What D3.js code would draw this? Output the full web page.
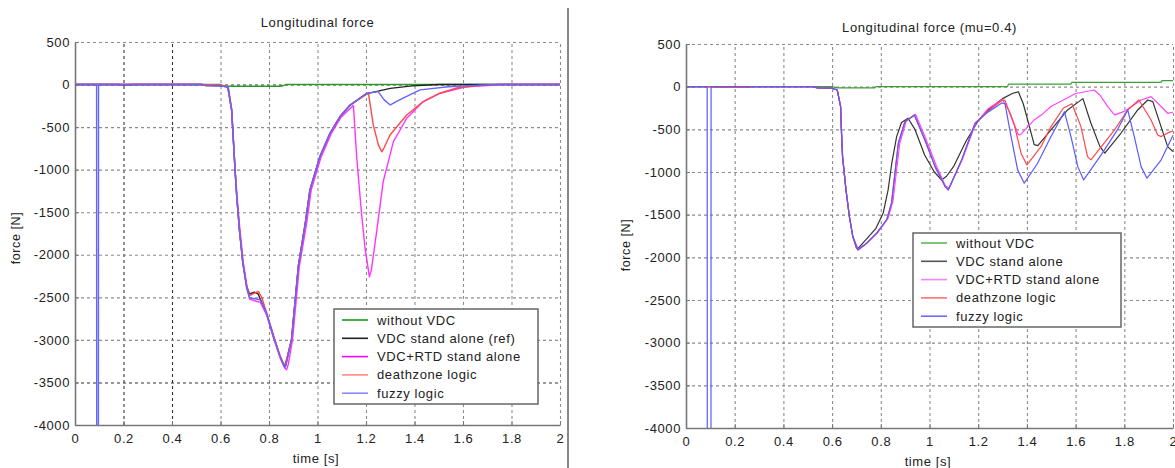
<!DOCTYPE html>
<html><head><meta charset="utf-8">
<script src="https://cdn.jsdelivr.net/npm/d3@7"></script>
<style>
html,body{margin:0;padding:0;background:#fff;}
svg text{font-family:"Liberation Sans",Arial,sans-serif;fill:#222;}
</style></head>
<body>
<svg id="chart" width="1175" height="468"></svg>
<script>
// ---------- DATA ----------
const xTicks = [0,0.2,0.4,0.6,0.8,1,1.2,1.4,1.6,1.8,2];
const yTicks = [500,0,-500,-1000,-1500,-2000,-2500,-3000,-3500,-4000];

const leftTitle = "Longitudinal force";
const rightTitle = "Longitudinal force (mu=0.4)";
const xLabel = "time [s]";
const yLabel = "force [N]";
const legendLeft = ["without VDC","VDC stand alone (ref)","VDC+RTD stand alone","deathzone logic"," fuzzy logic"];
const legendRight = ["without VDC","VDC stand alone","VDC+RTD stand alone","deathzone logic","fuzzy logic"];

// Left chart series: [time, force]
const leftGreen = [[0,0],[0.6,0],[0.62,-20],[0.85,-20],[0.87,0],[2,0]];
const leftBlack = [[0,0],[0.18,0],[0.2,-5],[0.25,0],[0.52,0],[0.54,-12],[0.6,-15],[0.63,-30],[0.646,-300],[0.66,-1000],[0.667,-1316],[0.678,-1700],[0.692,-2090],[0.708,-2370],[0.72,-2460],[0.74,-2440],[0.755,-2460],[0.77,-2560],[0.79,-2700],[0.818,-2960],[0.845,-3190],[0.862,-3300],[0.868,-3310],[0.876,-3200],[0.893,-2990],[0.921,-2130],[0.95,-1620],[0.969,-1235],[1.01,-845],[1.052,-570],[1.093,-375],[1.134,-245],[1.2,-110],[1.3,-45],[1.39,-15],[1.5,0],[2,0]];
const leftMagenta = [[0,0],[0.52,0],[0.6,-10],[0.63,-25],[0.646,-290],[0.66,-990],[0.668,-1310],[0.68,-1700],[0.694,-2090],[0.71,-2390],[0.72,-2520],[0.74,-2540],[0.765,-2560],[0.792,-2720],[0.82,-2990],[0.847,-3220],[0.865,-3330],[0.873,-3350],[0.88,-3280],[0.897,-3000],[0.925,-2140],[0.955,-1630],[0.974,-1240],[1.015,-850],[1.057,-575],[1.098,-380],[1.148,-245],[1.162,-865],[1.182,-1530],[1.196,-1920],[1.214,-2260],[1.222,-2180],[1.244,-1726],[1.271,-1140],[1.313,-670],[1.368,-396],[1.436,-200],[1.505,-102],[1.615,-25],[1.77,0],[2,0]];
const leftRed = [[0,0],[0.52,0],[0.6,-10],[0.63,-25],[0.646,-300],[0.66,-1000],[0.667,-1316],[0.678,-1707],[0.692,-2096],[0.708,-2372],[0.72,-2480],[0.74,-2450],[0.756,-2430],[0.77,-2500],[0.79,-2680],[0.818,-2940],[0.845,-3180],[0.86,-3280],[0.866,-3290],[0.875,-3200],[0.893,-2990],[0.921,-2135],[0.95,-1625],[0.969,-1237],[1.01,-846],[1.052,-570],[1.093,-376],[1.134,-240],[1.21,-100],[1.23,-474],[1.251,-709],[1.265,-790],[1.275,-740],[1.299,-592],[1.368,-357],[1.436,-200],[1.505,-102],[1.574,-40],[1.67,-10],[1.75,0],[2,0]];
const leftBlue = [[0,0],[0.089,0],[0.0895,-4600],[0.0965,-4600],[0.097,0],[0.2,0],[0.52,0],[0.54,-12],[0.6,-18],[0.632,-25],[0.646,-298],[0.66,-1002],[0.667,-1316],[0.678,-1707],[0.692,-2096],[0.708,-2400],[0.72,-2505],[0.763,-2528],[0.79,-2681],[0.818,-2958],[0.845,-3193],[0.862,-3311],[0.866,-3326],[0.874,-3250],[0.893,-2998],[0.921,-2137],[0.95,-1625],[0.969,-1237],[1.01,-846],[1.052,-570],[1.093,-376],[1.134,-240],[1.203,-102],[1.25,-83],[1.275,-180],[1.3,-240],[1.325,-200],[1.353,-160],[1.423,-63],[1.54,-25],[1.65,-10],[1.75,0],[2,0]];

// Right chart series (mu = 0.4)
const rightGreen = [[0,0],[0.6,0],[0.62,-15],[0.775,-15],[0.78,0],[1.32,0],[1.325,30],[1.58,30],[1.585,50],[1.95,50],[1.955,70],[2,70]];
const rightBlack = [[0,0],[0.11,0],[0.13,-10],[0.25,-10],[0.27,0],[0.52,0],[0.54,-15],[0.6,-18],[0.621,-39],[0.635,-234],[0.637,-429],[0.643,-820],[0.657,-1210],[0.671,-1522],[0.685,-1756],[0.7,-1890],[0.705,-1900],[0.74,-1790],[0.78,-1660],[0.81,-1480],[0.83,-1210],[0.845,-900],[0.865,-585],[0.885,-420],[0.912,-370],[0.94,-500],[0.98,-800],[1.02,-1000],[1.049,-1093],[1.07,-1050],[1.1,-930],[1.15,-640],[1.2,-400],[1.25,-250],[1.3,-140],[1.34,-80],[1.365,-59],[1.385,-200],[1.403,-390],[1.43,-680],[1.445,-690],[1.499,-507],[1.567,-273],[1.63,-140],[1.663,-429],[1.7,-703],[1.72,-780],[1.786,-546],[1.855,-273],[1.896,-156],[1.917,-176],[1.951,-468],[1.978,-703],[2,-760]];
const rightMagenta = [[0,0],[0.52,0],[0.54,-15],[0.6,-18],[0.621,-39],[0.635,-234],[0.637,-429],[0.643,-820],[0.657,-1210],[0.671,-1522],[0.685,-1756],[0.708,-1915],[0.745,-1830],[0.79,-1700],[0.83,-1540],[0.85,-1340],[0.864,-1000],[0.878,-660],[0.905,-400],[0.943,-325],[0.985,-610],[1.027,-920],[1.065,-1160],[1.08,-1190],[1.135,-850],[1.19,-430],[1.24,-260],[1.3,-150],[1.33,-300],[1.365,-566],[1.375,-560],[1.43,-390],[1.46,-330],[1.5,-230],[1.54,-170],[1.6,-80],[1.677,-39],[1.7,-100],[1.732,-234],[1.76,-331],[1.8,-290],[1.869,-156],[1.91,-117],[1.95,-230],[1.978,-312],[2,-300]];
const rightRed = [[0,0],[0.11,0],[0.13,-8],[0.25,-8],[0.27,0],[0.52,0],[0.54,-15],[0.6,-18],[0.621,-39],[0.635,-234],[0.637,-429],[0.643,-820],[0.657,-1210],[0.671,-1522],[0.685,-1756],[0.705,-1912],[0.742,-1834],[0.783,-1717],[0.824,-1561],[0.844,-1365],[0.858,-1014],[0.872,-663],[0.899,-410],[0.938,-331],[0.981,-624],[1.023,-937],[1.064,-1171],[1.077,-1210],[1.132,-858],[1.187,-429],[1.235,-300],[1.3,-156],[1.31,-160],[1.35,-468],[1.376,-780],[1.4,-917],[1.458,-703],[1.499,-468],[1.55,-250],[1.585,-200],[1.622,-468],[1.649,-820],[1.663,-858],[1.76,-507],[1.814,-273],[1.86,-156],[1.91,-390],[1.937,-566],[1.951,-585],[1.99,-527],[2,-520]];
const rightBlue = [[0,0],[0.087,0],[0.0875,-4600],[0.1025,-4600],[0.103,0],[0.52,0],[0.54,-15],[0.6,-18],[0.621,-39],[0.635,-234],[0.637,-429],[0.643,-820],[0.657,-1210],[0.671,-1522],[0.685,-1756],[0.705,-1912],[0.742,-1834],[0.783,-1717],[0.824,-1561],[0.844,-1365],[0.858,-1014],[0.872,-663],[0.899,-410],[0.938,-331],[0.981,-624],[1.023,-937],[1.064,-1171],[1.077,-1210],[1.132,-858],[1.187,-429],[1.235,-310],[1.297,-190],[1.31,-200],[1.335,-585],[1.362,-975],[1.389,-1131],[1.444,-897],[1.499,-585],[1.554,-293],[1.581,-585],[1.609,-937],[1.633,-1093],[1.705,-800],[1.773,-500],[1.814,-273],[1.841,-585],[1.869,-937],[1.893,-1073],[1.951,-860],[2,-570]];

// ---------- DRAW ----------
const svg = d3.select("#chart");
const LS = "0.6px";

function drawPanel(cfg){
  const g = svg.append("g");
  const x = d3.scaleLinear().domain([0,2]).range([cfg.x0,cfg.x1]);
  const y = d3.scaleLinear().domain([-4000,500]).range([cfg.y1,cfg.y0]);
  const fmt = d => String(d);

  // grid
  const gridX = g.append("g").attr("transform",`translate(0,${cfg.y1})`)
    .call(d3.axisBottom(x).tickValues(xTicks.slice(1)).tickSize(-(cfg.y1-cfg.y0)).tickFormat(""));
  gridX.select(".domain").remove();
  gridX.selectAll("line").attr("stroke",d=>cfg.darkX.includes(d)?"#333":"#8c8c8c")
    .attr("stroke-dasharray","3,3").attr("stroke-width",1.1);
  const gridY = g.append("g").attr("transform",`translate(${cfg.x0},0)`)
    .call(d3.axisLeft(y).tickValues(yTicks.slice(0,-1)).tickSize(-(cfg.x1-cfg.x0)).tickFormat(""));
  gridY.select(".domain").remove();
  gridY.selectAll("line").attr("stroke",d=>cfg.darkY.includes(d)?"#333":"#8c8c8c")
    .attr("stroke-dasharray","3,3").attr("stroke-width",1.1);

  // clip
  const cid = "clip"+cfg.id;
  svg.append("clipPath").attr("id",cid).append("rect")
    .attr("x",cfg.x0).attr("y",cfg.y0-2).attr("width",cfg.x1-cfg.x0+2).attr("height",cfg.y1-cfg.y0+2);

  const line = d3.line().x(d=>x(d[0])).y(d=>y(d[1]));
  const lg = g.append("g").attr("clip-path",`url(#${cid})`);
  cfg.series.forEach((s,i)=>{
    lg.append("path").datum(s).attr("d",line).attr("fill","none")
      .attr("stroke",cfg.colors[i]).attr("stroke-width",cfg.lw).attr("stroke-linejoin","round");
  });

  // axes
  const ax = g.append("g").attr("transform",`translate(0,${cfg.y1})`)
    .call(d3.axisBottom(x).tickValues(xTicks).tickFormat(fmt).tickSizeInner(-4).tickSizeOuter(0).tickPadding(9));
  const ay = g.append("g").attr("transform",`translate(${cfg.x0},0)`)
    .call(d3.axisLeft(y).tickValues(yTicks).tickFormat(fmt).tickSizeInner(-4).tickSizeOuter(0).tickPadding(5));
  [ax,ay].forEach(a=>{
    a.select(".domain").attr("stroke","#777").attr("stroke-width",1.6);
    a.selectAll(".tick line").attr("stroke","#777");
    a.selectAll("text").style("font-size","13px").style("letter-spacing",LS).attr("fill","#333");
  });

  // titles
  g.append("text").attr("x",(cfg.x0+cfg.x1)/2).attr("y",cfg.titleY).attr("text-anchor","middle")
    .style("font-size","13px").style("letter-spacing",LS).text(cfg.title);
  g.append("text").attr("x",cfg.xlabX).attr("y",cfg.xlabY).attr("text-anchor","middle")
    .style("font-size","13px").style("letter-spacing",LS).text(xLabel);
  g.append("text").attr("transform",`translate(${cfg.ylabX},${cfg.ylabY}) rotate(-90)`).attr("text-anchor","middle")
    .style("font-size","12.5px").style("letter-spacing",LS).text(yLabel);

  // legend
  const L = cfg.legend;
  const lgd = g.append("g");
  lgd.append("rect").attr("x",L.x).attr("y",L.y).attr("width",L.w).attr("height",L.h)
    .attr("fill","#fff").attr("stroke","#666").attr("stroke-width",1.5);
  cfg.legendLabels.forEach((t,i)=>{
    const yy = L.y + L.first + i*L.step;
    lgd.append("line").attr("x1",L.x+8).attr("x2",L.x+34).attr("y1",yy).attr("y2",yy)
      .attr("stroke",cfg.legendColors[i]).attr("stroke-width",1.6);
    lgd.append("text").attr("x",L.x+43).attr("y",yy+4.5).style("font-size","13px")
      .style("letter-spacing",LS).attr("fill","#333").text(t);
  });
}

drawPanel({
  id:"L", x0:75, x1:560, y0:42, y1:425, titleY:27, title:leftTitle,
  xlabX:316, xlabY:463, ylabX:20, ylabY:238,
  darkX:[0.2,0.4], darkY:[0,-3500], lw:1.4,
  series:[leftGreen,leftBlack,leftMagenta,leftRed,leftBlue],
  colors:["#2a9a2a","#222222","#ff33ff","#ff4848","#6464ff"],
  legendLabels:legendLeft,
  legendColors:["#1a9a1a","#222222","#ff00ff","#ff8a80","#8a8aff"],
  legend:{x:334,y:309,w:204,h:95,first:11,step:18.3}
});
drawPanel({
  id:"R", x0:686, x1:1173, y0:44, y1:428, titleY:32, title:rightTitle,
  xlabX:928, xlabY:466, ylabX:630, ylabY:245,
  darkX:[], darkY:[], lw:1.2,
  series:[rightGreen,rightBlack,rightMagenta,rightRed,rightBlue],
  colors:["#3aa03a","#333333","#ff44ff","#ff4848","#5a5aff"],
  legendLabels:legendRight,
  legendColors:["#5cb85c","#555555","#ff80ff","#ff7070","#6a6aff"],
  legend:{x:913,y:233,w:208,h:94,first:10,step:18.3}
});

// panel separator
svg.append("line").attr("x1",568).attr("x2",568).attr("y1",8).attr("y2",468)
  .attr("stroke","#888").attr("stroke-width",2);
</script>
</body></html>
